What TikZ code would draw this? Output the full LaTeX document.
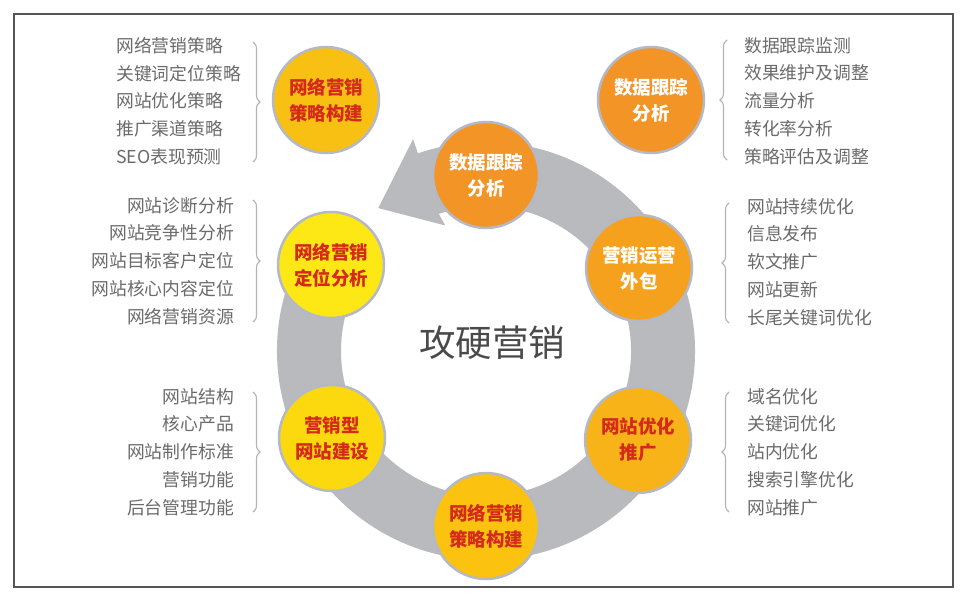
\documentclass[tikz,border=0pt]{standalone}
\usepackage{fontspec}
\newfontfamily\cjk{Noto Sans CJK SC}
\usetikzlibrary{decorations.pathreplacing}
\definecolor{ringgray}{HTML}{B9BABE}
\definecolor{rimgray}{HTML}{B5B9C5}
\definecolor{listgray}{HTML}{6B6B6B}
\definecolor{bracegray}{HTML}{B4B4B4}
\definecolor{framegray}{HTML}{555555}
\definecolor{redtext}{HTML}{D42A1C}
\definecolor{cgoldA}{HTML}{F8C012}
\definecolor{cyellow}{HTML}{FDE815}
\definecolor{cyellowB}{HTML}{FCD90E}
\definecolor{cgoldB}{HTML}{FBC20F}
\definecolor{corangeA}{HTML}{F8B318}
\definecolor{corangeB}{HTML}{F6A11E}
\definecolor{corangeC}{HTML}{F39426}
\definecolor{centertext}{HTML}{4A4A4A}
\tikzset{
  bub/.style={circle, draw=rimgray, line width=2.5pt, minimum size=106pt, inner sep=0pt,
    align=center, font=\cjk\bfseries\fontsize{18.5}{26}\selectfont},
  redbub/.style={bub, text=redtext},
  whitebub/.style={bub, text=white},
  listL/.style={anchor=west, align=left, inner sep=0pt, text=listgray,
    font=\cjk\fontsize{17.8}{27.8}\selectfont},
  listR/.style={anchor=east, align=right, inner sep=0pt, text=listgray,
    font=\cjk\fontsize{17.8}{27.8}\selectfont},
  bracestyle/.style={draw=bracegray, line width=1.1pt,
    decorate, decoration={brace, amplitude=7pt}},
}
\begin{document}
\begin{tikzpicture}[x=1pt, y=-1pt]
\useasboundingbox (0,0) rectangle (970,602);
\fill[white] (0,0) rectangle (970,602);
\draw[framegray, line width=1.3pt] (14,14) rectangle (953,587);

% ring with arrow
\begin{scope}[shift={(486,351)}, yscale=-1]
  \fill[ringgray] (150:209) arc[start angle=150, end angle=469, radius=209]
    -- (469:224) -- (487:179) -- (468:132) -- (469:145)
    arc[start angle=469, end angle=150, radius=145] -- cycle;
\end{scope}

% circles
\node[redbub, fill=cgoldA] (s1) at (326,100) {网络营销\\策略构建};
\node[whitebub, fill=corangeC] (d1) at (651,100) {数据跟踪\\分析};
\node[whitebub, fill=corangeC] (d2) at (486,175) {数据跟踪\\分析};
\node[redbub, fill=cyellow] (p1) at (331,265) {网络营销\\定位分析};
\node[whitebub, fill=corangeB] (o1) at (639,268) {营销运营\\外包};
\node[redbub, fill=cyellowB] (w1) at (332,438) {营销型\\网站建设};
\node[redbub, fill=corangeA] (t1) at (638,440) {网站优化\\推广};
\node[redbub, fill=cgoldB] (s2) at (486,526) {网络营销\\策略构建};

% center title
\node[text=centertext, font=\cjk\fontsize{36.5}{40}\selectfont] (title) at (492,343) {攻硬营销};

% lists
\node[listL] (L1) at (116,101) {网络营销策略\\关键词定位策略\\网站优化策略\\推广渠道策略\\SEO表现预测};
\node[listR] (L2) at (234,261) {网站诊断分析\\网站竞争性分析\\网站目标客户定位\\网站核心内容定位\\网络营销资源};
\node[listR] (L3) at (234,452) {网站结构\\核心产品\\网站制作标准\\营销功能\\后台管理功能};
\node[listL] (R1) at (744,101) {数据跟踪监测\\效果维护及调整\\流量分析\\转化率分析\\策略评估及调整};
\node[listL] (R2) at (747,262) {网站持续优化\\信息发布\\软文推广\\网站更新\\长尾关键词优化};
\node[listL] (R3) at (747,452) {域名优化\\关键词优化\\站内优化\\搜索引擎优化\\网站推广};

% braces
\coordinate (bL1a) at (253,42);  \coordinate (bL1b) at (253,162);
\coordinate (bL2a) at (253,200); \coordinate (bL2b) at (253,322);
\coordinate (bL3a) at (253,392); \coordinate (bL3b) at (253,512);
\coordinate (bR1a) at (727,40);  \coordinate (bR1b) at (727,160);
\coordinate (bR2a) at (729,203); \coordinate (bR2b) at (729,323);
\coordinate (bR3a) at (729,392); \coordinate (bR3b) at (729,512);
\draw[bracestyle] (bL1a) -- (bL1b);
\draw[bracestyle] (bL2a) -- (bL2b);
\draw[bracestyle] (bL3a) -- (bL3b);
\draw[bracestyle] (bR1b) -- (bR1a);
\draw[bracestyle] (bR2b) -- (bR2a);
\draw[bracestyle] (bR3b) -- (bR3a);
\end{tikzpicture}
\end{document}
